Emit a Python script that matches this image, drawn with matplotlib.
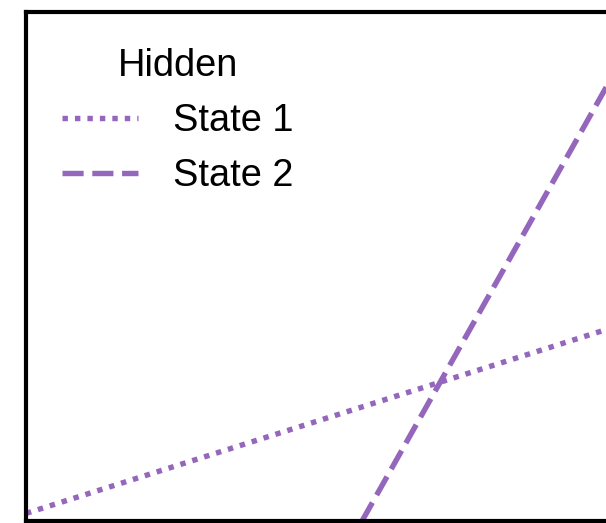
import matplotlib
matplotlib.use("Agg")
import matplotlib.pyplot as plt

plt.rcParams['font.family'] = ['Liberation Sans', 'DejaVu Sans']

series_names = ["State 1", "State 2"]
state1_x = [0.0, 1.0]
state1_y = [0.014, 0.409]
state2_x = [0.53, 1.0]
state2_y = [-0.001, 1.04]
legend_title = "Hidden"
color = "#9467bd"

fig = plt.figure(figsize=(6.06, 5.23), dpi=100)
ax = fig.add_axes([26/606, 2.5/523, 634/606, 508.5/523])
ax.plot(state1_x, state1_y, linestyle=(0, (1, 1.3)), color=color, lw=3.9, label=series_names[0])
ax.plot(state2_x, state2_y, linestyle=(0, (3.9, 1.6)), color=color, lw=3.9, label=series_names[1])
ax.set_xlim(0, 1)
ax.set_ylim(0, 1)
ax.set_xticks([])
ax.set_yticks([])
for s in ax.spines.values():
    s.set_linewidth(3)
    s.set_color("black")
leg = ax.legend(title=legend_title, loc="upper left", frameon=False, fontsize=27.4,
                title_fontsize=27.4, handlelength=2.0, handletextpad=0.9,
                labelspacing=0.5, borderaxespad=0.55)
fig.savefig("out.png", dpi=100)
